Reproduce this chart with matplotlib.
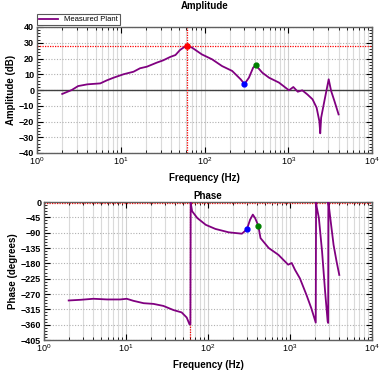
import matplotlib
matplotlib.use("Agg")
import matplotlib.pyplot as plt
from matplotlib.ticker import LogLocator, MultipleLocator, NullFormatter, FixedLocator
import numpy as np

plt.rcParams['font.family'] = ['Liberation Sans', 'DejaVu Sans']

# ---- data ----
amp_freq = [2.0, 2.6, 3.1, 4.0, 5.7, 6.8, 8.2, 10.8, 14.2, 17, 20.5, 27, 32, 39, 45, 51, 56, 61,
            71, 93, 123, 162, 214, 270, 300, 339, 381, 410, 490, 590, 775, 1020, 1150, 1300,
            1470, 1690, 1950, 2180, 2350, 2410, 2470, 2700, 3040, 3250, 3560, 3990]
amp_db = [-2.5, 0, 2.5, 3.6, 4.2, 6.1, 7.8, 10, 11.6, 13.8, 14.8, 17.4, 18.8, 21, 22.2, 25.4, 26.9, 28,
          26.9, 22.6, 19.5, 15.2, 12.1, 6.8, 3.8, 7.8, 14.2, 15.7, 11, 7.8, 4.7, -0.2, 1.9, -1.1,
          -0.2, -2.8, -5.9, -11.2, -19.7, -27.5, -17.6, -7, 6.8, -0.6, -7, -15.5]

phase_freq = [2.0, 2.8, 4.0, 5.9, 8.5, 10.2, 12.3, 16.4, 21.6, 28.6, 37.8, 47.7, 55, 59.5, 61,
              61.5, 64, 74, 94, 123, 179, 259, 280, 300, 326, 352, 375, 410, 437, 550, 722,
              950, 1050, 1150, 1320, 1590, 1820, 2060, 2080, 2120, 2250, 2460, 2680, 2880,
              2920, 2935, 2970, 3100, 3400, 3700, 3990]
phase_deg = [-289, -287, -284, -286, -286, -284, -290, -297, -299, -305, -317, -324, -339, -359, -359,
             -2, -27, -47, -67, -79, -89, -93, -86, -78, -52, -37, -47, -69, -106, -135, -155,
             -184, -179, -199, -224, -273, -312, -354, 0, -15, -47, -145, -263, -351,
             -355, 0, -10, -47, -126, -175, -214]

peak_freq, peak_db = 61, 28
phase_ref = -2
blue_freq, blue_db, blue_deg = 300, 3.8, -78
green_freq, green_db, green_deg = 410, 15.7, -69

amp_yticks = [40, 30, 20, 10, 0, -10, -20, -30, -40]
phase_yticks = [0, -45, -90, -135, -180, -225, -270, -315, -360, -405]

purple = '#800080'

fig = plt.figure(figsize=(3.84, 3.77), dpi=100)
ax1 = fig.add_axes([37/384, 1-153/377, 335/384, 126/377])
ax2 = fig.add_axes([44/384, 1-340/377, 328/384, 138/377])

def style(ax):
    ax.set_xscale('log')
    ax.set_xlim(1, 1e4)
    ax.xaxis.set_major_locator(LogLocator(base=10, numticks=10))
    ax.xaxis.set_minor_locator(LogLocator(base=10, subs=np.arange(2, 10), numticks=10))
    ax.xaxis.set_minor_formatter(NullFormatter())
    ax.grid(True, which='major', axis='x', color='#d0d0d0', lw=0.8, ls='-')
    ax.grid(True, which='minor', axis='x', color='#dadada', lw=0.8, ls='-')
    ax.grid(True, which='major', axis='y', color='#b0b0b0', lw=0.8, ls=(0, (1, 1.5)))
    ax.tick_params(which='both', direction='in', top=True, right=True, labelsize=6.5, pad=2)
    ax.tick_params(which='major', length=4, width=0.8)
    ax.tick_params(which='minor', length=2, width=0.6)
    for s in ax.spines.values():
        s.set_color('#606060')
        s.set_linewidth(1.0)
    ax.set_axisbelow(True)

# Amplitude
ax1.set_ylim(-40, 40)
ax1.yaxis.set_major_locator(FixedLocator(amp_yticks))
ax1.yaxis.set_minor_locator(MultipleLocator(2))
style(ax1)
ax1.axhline(0, color='#404040', lw=1.0, zorder=1.5)
ax1.axhline(peak_db, color='red', lw=0.9, ls=(0, (1, 1)), zorder=1.6)
ax1.axvline(peak_freq, color='red', lw=0.9, ls=(0, (1, 1)), zorder=1.6)
line, = ax1.plot(amp_freq, amp_db, color=purple, lw=1.3, zorder=3, label='Measured Plant')
ax1.plot([peak_freq], [peak_db], 'o', color='red', ms=3.8, zorder=4)
ax1.plot([blue_freq], [blue_db], 'o', color='blue', ms=3.5, zorder=4)
ax1.plot([green_freq], [green_db], 'o', color='green', ms=3.5, zorder=4)
ax1.set_title('Amplitude', fontsize=7, fontweight='bold', pad=13)
ax1.set_xlabel('Frequency (Hz)', fontsize=7, fontweight='bold', labelpad=4)
ax1.set_ylabel('Amplitude (dB)', fontsize=7, fontweight='bold', labelpad=2)
for lab in ax1.get_yticklabels():
    lab.set_fontweight('bold')
leg = ax1.legend(loc='lower left', bbox_to_anchor=(0.0, 1.015), fontsize=5.5, frameon=True,
                 fancybox=False, edgecolor='#303030', borderpad=0.25, handlelength=2.5,
                 borderaxespad=0, handletextpad=0.8)
leg.get_frame().set_linewidth(0.8)

# Phase
ax2.set_ylim(-405, 0)
ax2.yaxis.set_major_locator(FixedLocator(phase_yticks))
ax2.yaxis.set_minor_locator(MultipleLocator(9))
style(ax2)
ax2.axhline(phase_ref, color='red', lw=0.9, ls=(0, (1, 1)), zorder=1.6)
ax2.axvline(peak_freq, color='red', lw=0.9, ls=(0, (1, 1)), zorder=1.6)
ax2.plot(phase_freq, phase_deg, color=purple, lw=1.3, zorder=3)
ax2.plot([blue_freq], [blue_deg], 'o', color='blue', ms=3.5, zorder=4)
ax2.plot([green_freq], [green_deg], 'o', color='green', ms=3.5, zorder=4)
ax2.set_title('Phase', fontsize=7, fontweight='bold', pad=2)
ax2.set_xlabel('Frequency (Hz)', fontsize=7, fontweight='bold', labelpad=4)
ax2.set_ylabel('Phase (degrees)', fontsize=7, fontweight='bold', labelpad=2)
for lab in ax2.get_yticklabels():
    lab.set_fontweight('bold')

fig.savefig('out.png', dpi=100)
